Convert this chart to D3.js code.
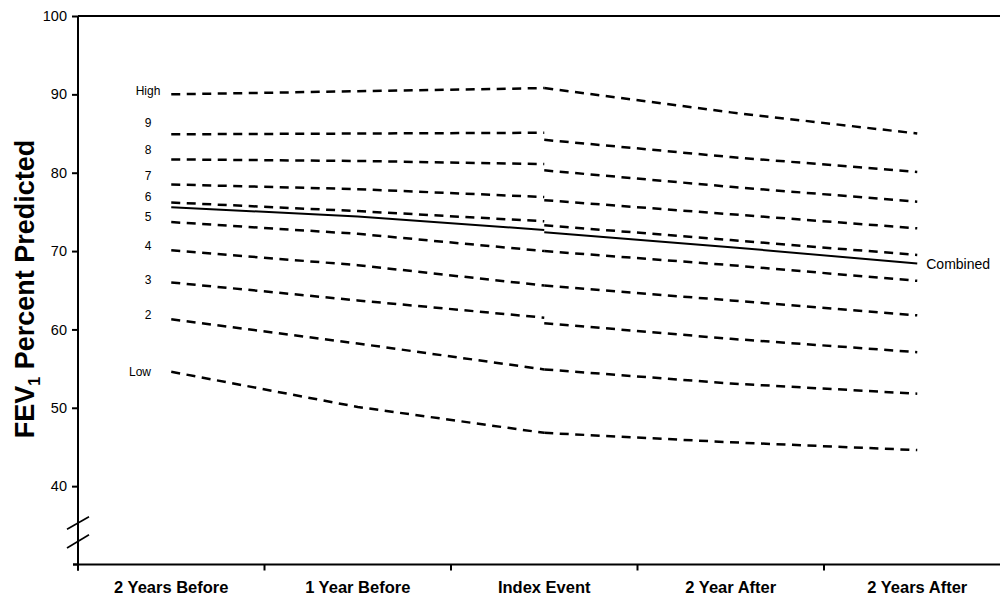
<!DOCTYPE html>
<html>
<head>
<meta charset="utf-8">
<script src="https://cdn.jsdelivr.net/npm/d3@7/dist/d3.min.js"></script>
<style>
  html, body { margin: 0; padding: 0; background: #fff; }
  svg { display: block; font-family: "Liberation Sans", Arial, Helvetica, sans-serif; }
</style>
</head>
<body>
<svg id="chart" width="1000" height="602"></svg>
<script>
// Time points along the x axis
const categories = ["2 Years Before", "1 Year Before", "Index Event", "2 Year After", "2 Years After"];

// FEV1 decile groups, top to bottom
const groups = ["High", "9", "8", "7", "6", "5", "4", "3", "2", "Low"];

// Mean FEV1 % predicted before the event (2 Years Before, 1 Year Before, Index Event)
const beforeHigh = [90.0, 90.4, 90.8];
const before9    = [84.9, 85.0, 85.1];
const before8    = [81.7, 81.5, 81.1];
const before7    = [78.5, 77.9, 76.9];
const before6    = [76.2, 75.1, 73.8];
const before5    = [73.7, 72.2, 70.0];
const before4    = [70.1, 68.2, 65.6];
const before3    = [66.0, 63.7, 61.5];
const before2    = [61.3, 58.2, 54.9];
const beforeLow  = [54.6, 50.1, 46.8];

// Mean FEV1 % predicted after the event (Index Event, 2 Year After, 2 Years After)
const afterHigh = [90.8, 87.7, 85.0];
const after9    = [84.2, 82.0, 80.1];
const after8    = [80.3, 78.2, 76.3];
const after7    = [76.5, 74.7, 72.9];
const after6    = [73.3, 71.4, 69.5];
const after5    = [70.0, 68.2, 66.2];
const after4    = [65.6, 63.7, 61.8];
const after3    = [60.8, 58.8, 57.1];
const after2    = [54.9, 53.1, 51.8];
const afterLow  = [46.8, 45.6, 44.6];

// All groups combined
const combinedBefore = [75.6, 74.4, 72.7];
const combinedAfter  = [72.4, 70.5, 68.4];

const yTicks = [40, 50, 60, 70, 80, 90, 100];

const beforeSeries = [beforeHigh, before9, before8, before7, before6, before5, before4, before3, before2, beforeLow];
const afterSeries  = [afterHigh, after9, after8, after7, after6, after5, after4, after3, after2, afterLow];

// ---- layout ----
const svg = d3.select("#chart");
const mLeft = 78, mTop = 16, mBottom = 564.5, mRight = 1010.5;

const x = d3.scaleBand().domain(categories).range([mLeft, mRight]);
const y = d3.scaleLinear().domain([30, 100]).range([mBottom, mTop]);
const cx = c => x(c) + x.bandwidth() / 2;

const beforeCats = categories.slice(0, 3);
const afterCats = categories.slice(2);

const line = cats => d3.line()
  .x((d, i) => cx(cats[i]))
  .y(d => y(d));

// ---- frame ----
svg.append("line")
  .attr("x1", mLeft).attr("x2", 1000).attr("y1", mTop).attr("y2", mTop)
  .attr("stroke", "#000").attr("stroke-width", 2);

// x axis
const xAxis = svg.append("g")
  .attr("transform", `translate(0,${mBottom})`)
  .call(d3.axisBottom(x).tickSize(0).tickPadding(17));
xAxis.select(".domain").remove();
xAxis.append("line")
  .attr("x1", mLeft - 5).attr("x2", 1000).attr("y1", 0).attr("y2", 0)
  .attr("stroke", "#000").attr("stroke-width", 2);
xAxis.selectAll(".tick text")
  .attr("font-size", 16.5).attr("font-weight", "bold").attr("fill", "#000")
  .attr("font-family", "'Liberation Sans', Arial, sans-serif");
// boundary ticks between categories
xAxis.selectAll(".bound")
  .data(categories)
  .enter().append("line")
  .attr("class", "bound")
  .attr("x1", d => x(d)).attr("x2", d => x(d))
  .attr("y1", 0).attr("y2", 6)
  .attr("stroke", "#000").attr("stroke-width", 2);

// y axis
const yAxis = svg.append("g")
  .attr("transform", `translate(${mLeft},0)`)
  .call(d3.axisLeft(y).tickValues(yTicks).tickSize(6).tickPadding(5).tickFormat(d3.format("d")));
yAxis.select(".domain").remove();
yAxis.selectAll(".tick line").attr("stroke-width", 2);
yAxis.selectAll(".tick text")
  .attr("font-size", 14.5).attr("fill", "#000")
  .attr("font-family", "'Liberation Sans', Arial, sans-serif");
yAxis.append("line")
  .attr("x1", 0).attr("x2", 0).attr("y1", mTop).attr("y2", mBottom + 6)
  .attr("stroke", "#000").attr("stroke-width", 2);
// small tick at the axis base
yAxis.append("line")
  .attr("x1", -5).attr("x2", 0).attr("y1", mBottom).attr("y2", mBottom)
  .attr("stroke", "#000").attr("stroke-width", 2);

// axis break marks
[[36.1, 34.5], [33.8, 32.1]].forEach(([v1, v2]) => {
  svg.append("line")
    .attr("x1", mLeft - 11).attr("x2", mLeft + 11)
    .attr("y1", y(v2)).attr("y2", y(v1))
    .attr("stroke", "#000").attr("stroke-width", 1.6);
});

// y axis title
const title = svg.append("text")
  .attr("transform", "translate(34,289) rotate(-90)")
  .attr("text-anchor", "middle")
  .attr("font-size", 27).attr("font-weight", "bold").attr("fill", "#000");
title.append("tspan").text("FEV");
title.append("tspan").attr("font-size", 16).attr("dy", 6).text("1");
title.append("tspan").attr("dy", -6).text(" Percent Predicted");

// ---- decile lines ----
const plot = svg.append("g");
const dash = "9,6.5";
plot.selectAll(".pre")
  .data(beforeSeries)
  .enter().append("path")
  .attr("class", "pre")
  .attr("d", d => line(beforeCats)(d))
  .attr("fill", "none").attr("stroke", "#000")
  .attr("stroke-width", 2.5).attr("stroke-dasharray", dash);

plot.selectAll(".post")
  .data(afterSeries)
  .enter().append("path")
  .attr("class", "post")
  .attr("d", d => line(afterCats)(d))
  .attr("fill", "none").attr("stroke", "#000")
  .attr("stroke-width", 2.5).attr("stroke-dasharray", dash);

// combined line
plot.append("path")
  .attr("d", line(beforeCats)(combinedBefore))
  .attr("fill", "none").attr("stroke", "#000").attr("stroke-width", 2);
plot.append("path")
  .attr("d", line(afterCats)(combinedAfter))
  .attr("fill", "none").attr("stroke", "#000").attr("stroke-width", 2);

// group labels at the left end of each line
const labelNudge = [-4, -12, -10, -9, -6, -5.5, -4, -3, -4, 0];
const labelX = [148, 148, 148, 148, 148, 148, 148, 148, 148, 140];
plot.selectAll(".grp")
  .data(groups)
  .enter().append("text")
  .attr("class", "grp")
  .attr("x", (d, i) => labelX[i])
  .attr("y", (d, i) => y(beforeSeries[i][0]) + labelNudge[i])
  .attr("dy", "0.35em")
  .attr("text-anchor", "middle")
  .attr("font-size", 12).attr("fill", "#000")
  .text(d => d);

plot.append("text")
  .attr("x", cx(categories[4]) + 9)
  .attr("y", y(combinedAfter[2]))
  .attr("dy", "0.35em")
  .attr("font-size", 14).attr("fill", "#000")
  .text("Combined");
</script>
</body>
</html>
